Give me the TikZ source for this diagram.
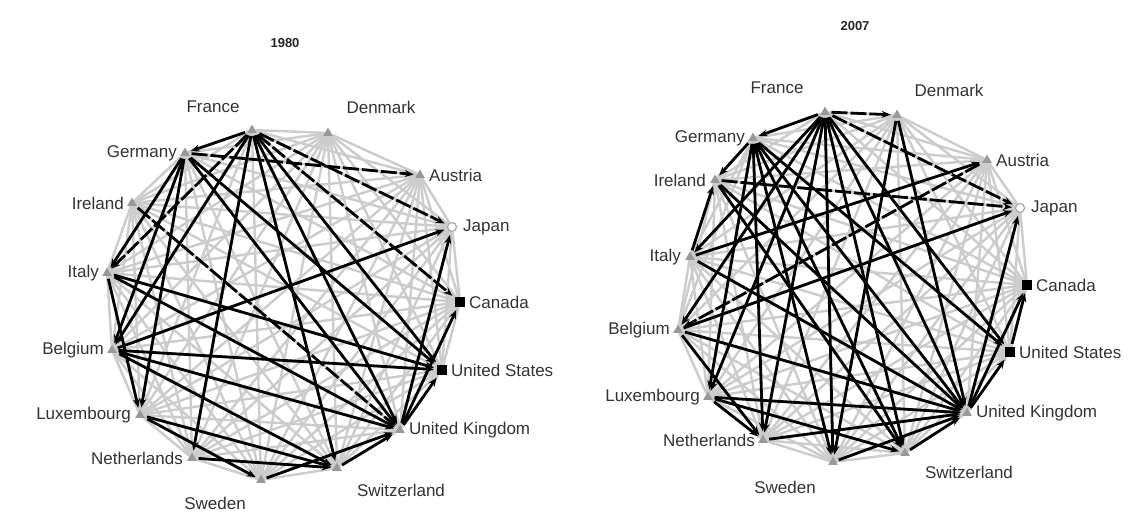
\documentclass[tikz,border=0pt]{standalone}
\usepackage{fontspec}
\setmainfont{Liberation Sans}
\usetikzlibrary{shapes.geometric,arrows.meta}
\pgfdeclarelayer{back}
\pgfdeclarelayer{bg}
\pgfsetlayers{back,bg,main}
\tikzset{
  tri/.style={regular polygon, regular polygon sides=3, fill=black!40, draw=none, minimum size=11pt, inner sep=0pt},
  sq/.style={rectangle, fill=black, draw=none, minimum size=10pt, inner sep=0pt},
  circ/.style={circle, draw=black!35, line width=1.2pt, fill=white, minimum size=9pt, inner sep=0pt},
  lab/.style={font=\fontsize{17}{19}\selectfont, text=black!80, inner sep=0pt},
  ttl/.style={font=\bfseries\fontsize{13}{15}\selectfont, text=black!85, inner sep=0pt},
  gedge/.style={draw=black!20, line width=2.4pt},
  bedge/.style={draw=black, line width=2.8pt, -{Stealth[length=9pt,width=7pt]}, shorten <=3pt, shorten >=3pt},
  bdash/.style={bedge, dash pattern=on 16pt off 3pt},
}
\begin{document}
\begin{tikzpicture}[x=1pt,y=-1pt]
\useasboundingbox (0,0) rectangle (1139,517);
\begin{pgfonlayer}{back}
\fill[white] (0,0) rectangle (1139,517);
\end{pgfonlayer}

% ---------- 1980 ----------
\node[ttl] (Lttl) at (285,43) {1980};
\node[tri]  (Lfr) at (252,130) {};
\node[tri]  (Lde) at (328,133) {};
\node[tri]  (Lge) at (185,153) {};
\node[tri]  (Lau) at (420,175) {};
\node[tri]  (Lir) at (132,203) {};
\node[circ] (Lja) at (452,227) {};
\node[tri]  (Lit) at (107,273) {};
\node[sq]   (Lca) at (460,302) {};
\node[tri]  (Lbe) at (112,350) {};
\node[sq]   (Lus) at (442,370) {};
\node[tri]  (Llu) at (140,415) {};
\node[tri]  (Luk) at (400,430) {};
\node[tri]  (Lne) at (192,458) {};
\node[tri]  (Lsw) at (261,480) {};
\node[tri]  (Lch) at (337,468) {};

\node[lab] (Lfrl) at (213,107) {France};
\node[lab] (Ldel) at (381,107) {Denmark};
\node[lab,anchor=east] (Lgel) at (177,153) {Germany};
\node[lab,anchor=west] (Laul) at (429,175) {Austria};
\node[lab,anchor=east] (Lirl) at (124,203) {Ireland};
\node[lab,anchor=west] (Ljal) at (463,227) {Japan};
\node[lab,anchor=east] (Litl) at (99,273) {Italy};
\node[lab,anchor=west] (Lcal) at (469,302) {Canada};
\node[lab,anchor=east] (Lbel) at (104,350) {Belgium};
\node[lab,anchor=west] (Lusl) at (451,370) {United States};
\node[lab,anchor=east] (Llul) at (131,415) {Luxembourg};
\node[lab,anchor=west] (Lukl) at (409,430) {United Kingdom};
\node[lab,anchor=east] (Lnel) at (183,458) {Netherlands};
\node[lab] (Lswl) at (215,503) {Sweden};
\node[lab] (Lchl) at (401,490) {Switzerland};

% ---------- 2007 ----------
\node[ttl] (Rttl) at (855,26) {2007};
\node[tri]  (Rfr) at (825,112) {};
\node[tri]  (Rde) at (897,115) {};
\node[tri]  (Rge) at (753,138) {};
\node[tri]  (Rau) at (987,160) {};
\node[tri]  (Rir) at (715,180) {};
\node[circ] (Rja) at (1020,208) {};
\node[tri]  (Rit) at (690,257) {};
\node[sq]   (Rca) at (1027,285) {};
\node[tri]  (Rbe) at (678,330) {};
\node[sq]   (Rus) at (1010,352) {};
\node[tri]  (Rlu) at (708,397) {};
\node[tri]  (Ruk) at (967,413) {};
\node[tri]  (Rne) at (763,440) {};
\node[tri]  (Rsw) at (833,462) {};
\node[tri]  (Rch) at (905,453) {};

\node[lab] (Rfrl) at (777,88) {France};
\node[lab] (Rdel) at (949,90) {Denmark};
\node[lab,anchor=east] (Rgel) at (745,138) {Germany};
\node[lab,anchor=west] (Raul) at (996,160) {Austria};
\node[lab,anchor=east] (Rirl) at (706,180) {Ireland};
\node[lab,anchor=west] (Rjal) at (1031,208) {Japan};
\node[lab,anchor=east] (Ritl) at (681,257) {Italy};
\node[lab,anchor=west] (Rcal) at (1036,285) {Canada};
\node[lab,anchor=east] (Rbel) at (670,330) {Belgium};
\node[lab,anchor=west] (Rusl) at (1019,352) {United States};
\node[lab,anchor=east] (Rlul) at (700,397) {Luxembourg};
\node[lab,anchor=west] (Rukl) at (976,413) {United Kingdom};
\node[lab,anchor=east] (Rnel) at (755,440) {Netherlands};
\node[lab] (Rswl) at (785,487) {Sweden};
\node[lab] (Rchl) at (969,472) {Switzerland};

\begin{pgfonlayer}{bg}
% gray mesh: every pair
\foreach \p in {L,R}{
  \foreach \a [count=\i] in {fr,de,ge,au,ir,ja,it,ca,be,us,lu,uk,ne,sw,ch}{
    \foreach \b [count=\j] in {fr,de,ge,au,ir,ja,it,ca,be,us,lu,uk,ne,sw,ch}{
      \ifnum\j>\i \draw[gedge] (\p\a) -- (\p\b); \fi
    }
  }
}
% black flows 1980
\foreach \s/\t in {fr/ge,fr/be,fr/ne,fr/uk,fr/us,fr/ch,
                   ge/lu,ge/be,ge/uk,ge/us,ge/it,
                   it/uk,it/us,it/lu,be/uk,be/ch,be/us,be/ja,
                   lu/ch,lu/sw,sw/uk,ch/uk,uk/ja,uk/ca,uk/us,ne/ch}
  \draw[bedge] (L\s) -- (L\t);
\foreach \s/\t in {fr/it,fr/ca,fr/ja,ge/au,ir/uk}
  \draw[bdash] (L\s) -- (L\t);
% black flows 2007
\foreach \s/\t in {fr/ge,fr/it,fr/be,fr/lu,fr/ne,fr/sw,fr/ch,fr/uk,fr/us,
                   ge/ir,ge/ne,ge/lu,ge/sw,ge/uk,ge/ch,ge/us,
                   de/sw,de/uk,ir/uk,ir/ch,it/ir,it/au,it/uk,
                   be/ja,be/uk,be/ne,lu/uk,lu/ne,lu/ch,ne/uk,
                   sw/uk,ch/uk,uk/ja,uk/ca,uk/us,us/ca}
  \draw[bedge] (R\s) -- (R\t);
\foreach \s/\t in {fr/de,ir/ja,fr/ja,au/be}
  \draw[bdash] (R\s) -- (R\t);
\end{pgfonlayer}
\end{tikzpicture}
\end{document}
